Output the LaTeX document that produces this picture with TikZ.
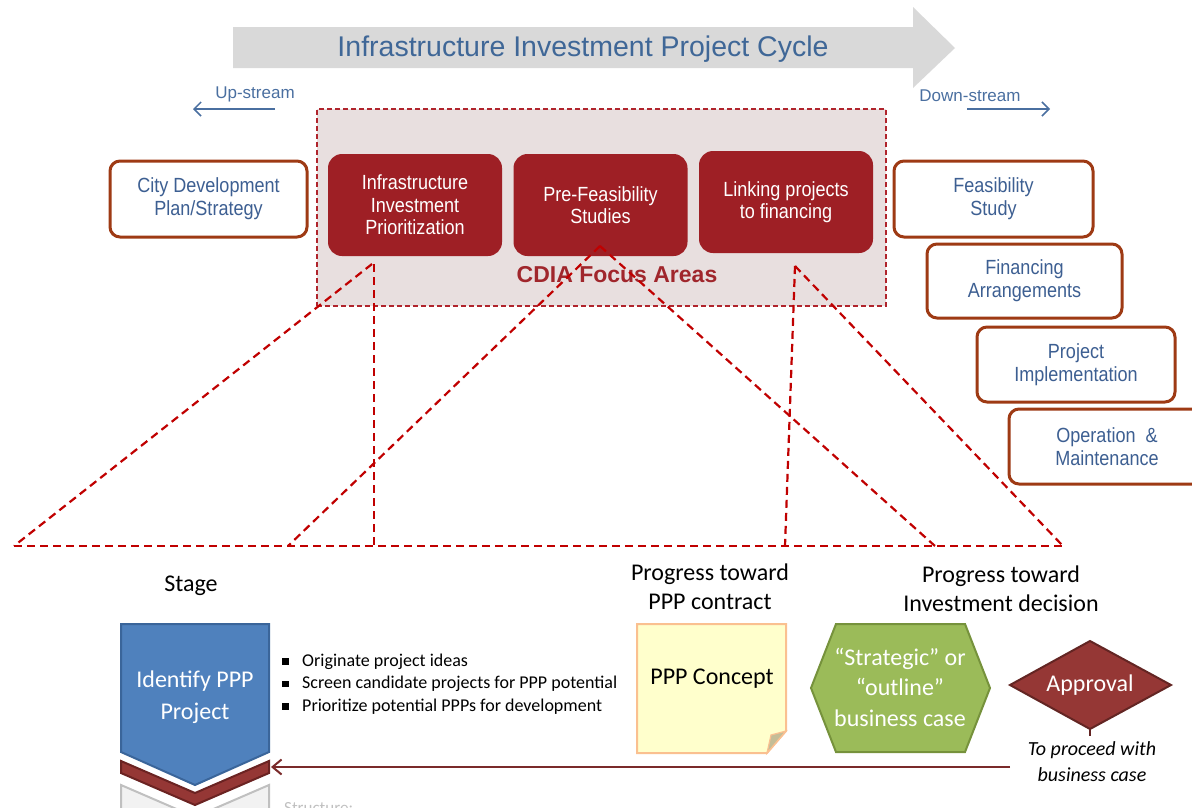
\documentclass[tikz,border=0pt]{standalone}
\usepackage{fontspec}
\setmainfont{Carlito}
\newfontfamily\kf{Liberation Sans}
\newfontfamily\kfn[FakeStretch=0.88]{Liberation Sans}
\usetikzlibrary{arrows.meta}
\definecolor{titlegray}{HTML}{D9D9D9}
\definecolor{titleblue}{HTML}{3F6797}
\definecolor{streamblue}{HTML}{4A6FA0}
\definecolor{cdiafill}{HTML}{E8DFDF}
\definecolor{cdiaborder}{HTML}{B0242C}
\definecolor{redbox}{HTML}{9E1F25}
\definecolor{focustext}{HTML}{A0262C}
\definecolor{obrown}{HTML}{9E3A14}
\definecolor{otext}{HTML}{3D5F92}
\definecolor{dred}{HTML}{C00000}
\definecolor{chevblue}{HTML}{4F81BD}
\definecolor{chevblueb}{HTML}{3A659A}
\definecolor{chevred}{HTML}{953735}
\definecolor{chevredb}{HTML}{6B2322}
\definecolor{chevgray}{HTML}{F2F2F2}
\definecolor{chevgrayb}{HTML}{C0C0C0}
\definecolor{arrowred}{HTML}{7A2A2A}
\definecolor{stickyfill}{HTML}{FFFFCC}
\definecolor{stickyb}{HTML}{FAC090}
\definecolor{foldc}{HTML}{C4BD97}
\definecolor{hexfill}{HTML}{9BBB59}
\definecolor{hexb}{HTML}{76923C}
\definecolor{diafill}{HTML}{953735}
\definecolor{diab}{HTML}{632523}
\newcommand\mysq{\makebox[20pt][l]{\rule[1.5pt]{6.5pt}{6.5pt}}}
\begin{document}
\begin{tikzpicture}[x=1pt,y=-1pt,
  outbox/.style={draw=obrown, line width=3pt, rounded corners=10pt, fill=white,
    text=otext, font=\kfn\fontsize{20.5}{23}\selectfont, align=center, inner sep=0pt},
  focusbox/.style={fill=redbox, rounded corners=14pt, text=white,
    font=\kfn\fontsize{20.5}{22.5}\selectfont, align=center, inner sep=0pt,
    minimum width=174pt, minimum height=102pt},
  ddash/.style={draw=dred, line width=2.2pt, dash pattern=on 8pt off 5pt},
  streamarrow/.style={draw=streamblue, line width=1.5pt, -{Straight Barb[length=7pt,width=14pt]}},
  streamtext/.style={text=streamblue, font=\kf\fontsize{17}{20}\selectfont, inner sep=0pt},
  bigtext/.style={font=\fontsize{24}{29}\selectfont, align=center, inner sep=0pt},
  whitetext/.style={text=white, font=\fontsize{24}{30.5}\selectfont, align=center, inner sep=0pt}
]
\useasboundingbox (0,0) rectangle (1192,807);
\clip (0,0) rectangle (1192,807);

% big process arrow
\fill[titlegray] (233,27) -- (913,27) -- (913,7) -- (955,48) -- (913,88) -- (913,68) -- (233,68) -- cycle;
\node[text=titleblue, font=\kf\fontsize{28.5}{32}\selectfont, inner sep=0pt] (title) at (583,49) {Infrastructure Investment Project Cycle};

% up / down stream
\node[streamtext] (up) at (255,94) {Up-stream};
\coordinate (upS) at (275,109);
\coordinate (upE) at (193,109);
\draw[streamarrow] (upS) -- (upE);
\node[streamtext] (down) at (970,96) {Down-stream};
\coordinate (dnS) at (967,109);
\coordinate (dnE) at (1050,109);
\draw[streamarrow] (dnS) -- (dnE);

% CDIA focus area
\node[draw=cdiaborder, fill=cdiafill, line width=1.8pt, dash pattern=on 5pt off 3pt,
  minimum width=569pt, minimum height=197pt, inner sep=0pt] (cdia) at (601.5,207.5) {};
\node[focusbox] (fa1) at (415,205) {Infrastructure\\Investment\\Prioritization};
\node[focusbox] (fa2) at (600.5,205) {Pre-Feasibility\\Studies};
\node[focusbox] (fa3) at (786,202) {Linking projects\\to financing};
\node[text=focustext, font=\kf\bfseries\fontsize{23}{26}\selectfont, inner sep=0pt] (focus) at (617,275) {CDIA Focus Areas};

% up/down stream boxes
\node[outbox, minimum width=197pt, minimum height=76pt] (city) at (208.5,199) {City Development\\Plan/Strategy};
\node[outbox, minimum width=199pt, minimum height=76pt] (feas) at (993.5,199) {Feasibility\\Study};
\node[outbox, minimum width=195pt, minimum height=74pt] (fin) at (1024.5,281) {Financing\\Arrangements};
\node[outbox, minimum width=198pt, minimum height=75pt] (impl) at (1076,364.5) {Project\\Implementation};
\node[outbox, minimum width=196pt, minimum height=75pt] (om) at (1107,446.5) {Operation\ \ \&\\Maintenance};

% zoom-out dashed lines
\coordinate (p1) at (372,264);
\coordinate (v1) at (374,264);
\coordinate (p2) at (600,246);
\coordinate (p3) at (795,266);
\coordinate (q0) at (14,546);
\coordinate (q1) at (374,546);
\coordinate (q2) at (288,546);
\coordinate (q3) at (935,546);
\coordinate (q4) at (785,546);
\coordinate (q5) at (1063,546);
\draw[ddash] (p1) -- (q0);
\draw[ddash] (v1) -- (q1);
\draw[ddash] (p2) -- (q2);
\draw[ddash] (p2) -- (q3);
\draw[ddash] (p3) -- (q4);
\draw[ddash] (p3) -- (q5);
\draw[ddash] (q0) -- (q5);

% headings
\node[bigtext] (stage) at (191,586) {Stage};
\node[bigtext] (prog1) at (710,587) {Progress toward\\PPP contract};
\node[bigtext] (prog2) at (1001,589) {Progress toward\\Investment decision};

% chevrons
\filldraw[fill=chevgray, draw=chevgrayb, line width=2pt] (121,785) -- (195,817) -- (269,785) -- (269,840) -- (121,840) -- cycle;
\filldraw[fill=chevred, draw=chevredb, line width=2pt] (121,761) -- (195,793) -- (269,761) -- (269,773) -- (195,805) -- (121,773) -- cycle;
\filldraw[fill=chevblue, draw=chevblueb, line width=2pt] (121,624) -- (269,624) -- (269,752) -- (195,785) -- (121,752) -- cycle;
\node[whitetext, font=\fontsize{24}{32}\selectfont] (idp) at (195,697) {Identify PPP\\Project};
\node[anchor=north west, text=chevgrayb, font=\fontsize{17}{20}\selectfont, inner sep=0pt] (struct) at (284,802) {Structure:};

% bullets
\node[anchor=west, align=left, font=\fontsize{18}{22.5}\selectfont, inner sep=0pt] (bul) at (282,684)
  {\mysq Originate project ideas\\ \mysq Screen candidate projects for PPP potential\\ \mysq Prioritize potential PPPs for development};

% sticky note
\filldraw[fill=stickyfill, draw=stickyb, line width=2pt] (637,624) -- (786,624) -- (786,731) -- (767,753) -- (637,753) -- cycle;
\filldraw[fill=foldc, draw=stickyb, line width=1.2pt] (786,731) -- (771,735) -- (767,753) -- cycle;
\node[bigtext] (ppp) at (712,679) {PPP Concept};

% hexagon
\filldraw[fill=hexfill, draw=hexb, line width=2pt] (811,688) -- (836,624) -- (965,624) -- (990,688) -- (965,752) -- (836,752) -- cycle;
\node[whitetext] (hex) at (900,687) {``Strategic'' or\\``outline''\\business case};

% diamond
\filldraw[fill=diafill, draw=diab, line width=2pt] (1010,685) -- (1090,641) -- (1171,685) -- (1090,729) -- cycle;
\node[whitetext] (appr) at (1090,685) {Approval};
\draw[diab, line width=1.5pt] (1090,729) -- (1090,736);
\node[font=\itshape\fontsize{20}{26}\selectfont, align=center, inner sep=0pt] (proceed) at (1092,762) {To proceed with\\business case};

% return arrow
\coordinate (retS) at (1010,767);
\coordinate (retE) at (271,767);
\draw[arrowred, line width=2pt, -{Straight Barb[length=9pt,width=15pt]}] (retS) -- (retE);
\end{tikzpicture}
\end{document}
